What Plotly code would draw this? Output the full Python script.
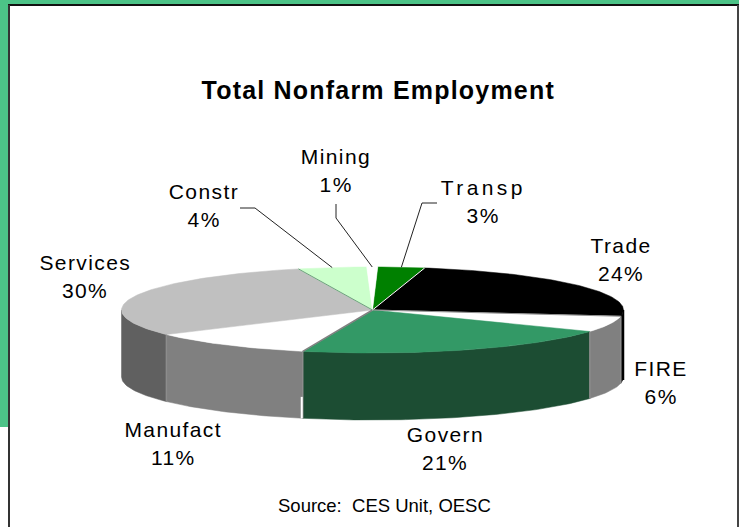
import math
import plotly.graph_objects as go

# ---- data (clockwise from the top of the pie) ----
categories = ["Transp", "Trade", "FIRE", "Govern", "Manufact", "Services", "Constr", "Mining"]
values = [3, 24, 6, 21.15, 10.85, 29.9, 4.4, 0.7]
top_colors = ["#008000", "#000000", "#ffffff", "#339966", "#ffffff", "#c0c0c0", "#ccffcc", "#ffffff"]
side_colors = ["#004000", "#000000", "#808080", "#1c4d33", "#808080", "#606060", "#668066", "#808080"]
label_centers = [(483, 187), (621, 245), (661, 368), (445, 434), (173, 429), (85, 262), (204, 191), (336, 156)]

title_text = "Total Nonfarm Employment"
source_text = "Source:  CES Unit, OESC"

# ---- pie geometry, in page pixels ----
W, H = 739, 527
CX, CY, RX, RY, DEPTH = 372.5, 310, 251, 43, 67
START_DEG = 1.2


def pt(deg, dy=0):
    a = math.radians(deg)
    return CX + RX * math.sin(a), CY - RY * math.cos(a) + dy


def arc(a0, a1):
    n = max(2, int(abs(a1 - a0) / 1.0) + 2)
    return [a0 + (a1 - a0) * i / (n - 1) for i in range(n)]


total = sum(values)
bounds = [START_DEG]
for v in values:
    bounds.append(bounds[-1] + 360 * v / total)

fig = go.Figure()


def poly(xs, ys, color):
    fig.add_trace(go.Scatter(x=xs, y=ys, mode="lines", fill="toself", fillcolor=color,
                             line=dict(width=0.5, color=color), hoverinfo="skip", showlegend=False))


def seg(xs, ys, color, width=1):
    fig.add_trace(go.Scatter(x=xs, y=ys, mode="lines", line=dict(color=color, width=width),
                             hoverinfo="skip", showlegend=False))


# side walls: only the front half of the rim is visible
for i in range(len(values)):
    a0, a1 = max(bounds[i], 90), min(bounds[i + 1], 270)
    if a1 <= a0:
        continue
    ang = arc(a0, a1)
    top = [pt(a) for a in ang]
    bottom = [pt(a, DEPTH) for a in reversed(ang)]
    pts = top + bottom
    poly([p[0] for p in pts], [p[1] for p in pts], side_colors[i])

# top faces
for i in range(len(values)):
    pts = [(CX, CY)] + [pt(a) for a in arc(bounds[i], bounds[i + 1])] + [(CX, CY)]
    poly([p[0] for p in pts], [p[1] for p in pts], top_colors[i])

# seams on the rim and wedge edges
for b in (bounds[2], bounds[3], bounds[4], bounds[5]):
    x, y = pt(b)
    seg([x, x], [y, y + DEPTH], "#8c8c8c", 1.5)
x, y = pt(bounds[4])
seg([x - 1, x - 1], [y + DEPTH * 0.68, y + DEPTH], "#ffffff", 2)
seg([CX, x], [CY, y], "#808080", 1.5)
x, y = pt(bounds[1])
seg([CX, x], [CY, y], "#ffffff", 1)
x, y = pt(bounds[2])
seg([CX, x], [CY, y], "#909090", 1)
x, y = pt(bounds[6])
seg([CX, x], [CY, y], "#6f9f7f", 1)

# right-hand dark edge of the Trade slice
seg([CX + RX, CX + RX], [CY, CY + DEPTH + 3], "#000000", 1.5)

# leader lines: from an elbow to the rim at the slice's mid angle
leaders = {"Constr": [(240, 208), (255, 208)], "Mining": [(336, 204), (336, 218)], "Transp": [(437, 203), (422, 203)]}
for name, elbow in leaders.items():
    i = categories.index(name)
    end = pt((bounds[i] + bounds[i + 1]) / 2)
    pts = elbow + [end]
    seg([p[0] for p in pts], [p[1] for p in pts], "#222222", 1)

annotations = []
FONT = "Liberation Sans, Arial, sans-serif"
for name, v, (lx, ly) in zip(categories, values, label_centers):
    for txt, yy in ((name, ly), (f"{round(v)}%", ly + 28)):
        annotations.append(dict(x=lx, y=yy, xref="x", yref="y", text=txt, showarrow=False,
                                xanchor="center", yanchor="middle",
                                font=dict(family=FONT, size=21, color="#000000")))
annotations.append(dict(x=378.5, y=89.5, xref="x", yref="y", text=f"<b>{title_text}</b>", showarrow=False,
                        xanchor="center", yanchor="middle", font=dict(family=FONT, size=25, color="#000000")))
annotations.append(dict(x=384, y=505.5, xref="x", yref="y", text=source_text, showarrow=False,
                        xanchor="center", yanchor="middle", font=dict(family=FONT, size=18.5, color="#000000")))

shapes = [
    dict(type="rect", xref="x", yref="y", x0=0, x1=W, y0=0, y1=5, fillcolor="#4cc387", line_width=0, layer="below"),
    dict(type="rect", xref="x", yref="y", x0=0, x1=8, y0=0, y1=427, fillcolor="#4cc387", line_width=0, layer="below"),
    dict(type="line", xref="x", yref="y", x0=8, x1=W, y0=5, y1=5, line=dict(color="#111111", width=2), layer="below"),
    dict(type="line", xref="x", yref="y", x0=9, x1=9, y0=5, y1=H, line=dict(color="#333333", width=2), layer="below"),
    dict(type="line", xref="x", yref="y", x0=738, x1=738, y0=5, y1=H, line=dict(color="#444444", width=2), layer="below"),
]

fig.update_layout(
    width=W, height=H, margin=dict(l=0, r=0, t=0, b=0),
    paper_bgcolor="#ffffff", plot_bgcolor="#ffffff", showlegend=False,
    xaxis=dict(range=[0, W], visible=False, fixedrange=True),
    yaxis=dict(range=[H, 0], visible=False, fixedrange=True),
    annotations=annotations, shapes=shapes,
)
spacing_js = """
document.body.style.margin='0';document.body.style.overflow='hidden';
document.querySelectorAll('.annotation-text').forEach(function(el){
  var s=parseFloat(el.style.fontSize);
  if(s===25){el.style.letterSpacing='1.2px';}
  else if(s===21){el.style.letterSpacing=(el.textContent==='Transp')?'3.4px':'1.4px';}
});
"""
fig.write_html("out.html", config={"displayModeBar": False}, post_script=spacing_js)
